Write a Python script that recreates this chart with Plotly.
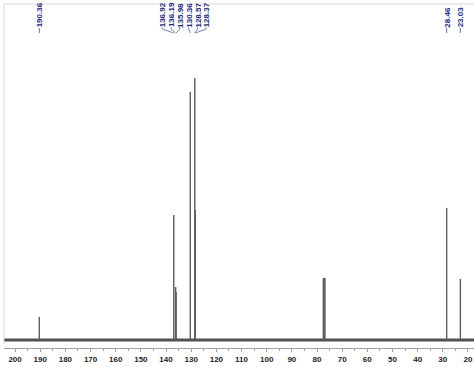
import plotly.graph_objects as go

# ---- data (13C NMR spectrum) ----
peak_ppm = [190.36, 136.92, 136.19, 135.98, 130.36, 128.57, 128.37,
            77.48, 77.16, 76.84, 28.46, 23.03]
peak_int = [8.8, 47.7, 20.2, 18.3, 94.7, 100.0, 49.6,
            23.7, 23.7, 23.7, 50.4, 23.3]

label_groups = [[190.36],
                [136.92, 136.19, 135.98, 130.36, 128.57, 128.37],
                [28.46],
                [23.03]]

tick_vals = [200, 190, 180, 170, 160, 150, 140, 130, 120, 110,
             100, 90, 80, 70, 60, 50, 40, 30, 20]

# ---- figure geometry ----
W, H = 474, 367
mt, mb, ml, mr = 4, 19, 4, 0
plot_h = H - mt - mb
X_RANGE = [204.4, 17.6]
Y_RANGE = [-3.05, 128.2]


def py(ypx):
    """pixel row (from top of page) -> paper y"""
    return 1 - (ypx - mt) / plot_h


LABEL_COLOR = "#1f2a80"
LINE_COLOR = "#5a5f9e"

# spectrum sticks
xs, ys = [], []
for p, h in zip(peak_ppm, peak_int):
    xs += [p, p, None]
    ys += [0, h, None]

fig = go.Figure()
# baseline
fig.add_trace(go.Scatter(x=[X_RANGE[0], X_RANGE[1]], y=[0, 0], mode="lines",
                         line=dict(color="#505050", width=3),
                         hoverinfo="skip", showlegend=False))
fig.add_trace(go.Scatter(x=xs, y=ys, mode="lines",
                         line=dict(color="#5c5c5c", width=1.4),
                         hoverinfo="skip", showlegend=False))

shapes = []
annotations = []
spacing = 3.5  # ppm between labels in a cluster
LBL_BOTTOM = 29.5
for grp in label_groups:
    n = len(grp)
    center = sum(grp) / n
    for i, p in enumerate(grp):
        lx = center + ((n - 1) / 2 - i) * spacing if n > 1 else p
        annotations.append(dict(
            x=lx, xref="x", y=py(LBL_BOTTOM), yref="paper",
            text=f"{p:.2f}", textangle=-90, showarrow=False,
            xanchor="center", yanchor="bottom",
            font=dict(family="Liberation Sans", size=8, color=LABEL_COLOR,
                      weight="bold")))
        if n > 1:
            shapes.append(dict(type="line", xref="x", yref="paper",
                               x0=lx, x1=lx, y0=py(27.5), y1=py(29),
                               line=dict(color=LINE_COLOR, width=0.8)))
            shapes.append(dict(type="line", xref="x", yref="paper",
                               x0=lx, x1=p, y0=py(29), y1=py(33),
                               line=dict(color=LINE_COLOR, width=0.8)))
        else:
            shapes.append(dict(type="line", xref="x", yref="paper",
                               x0=lx, x1=lx, y0=py(28), y1=py(33),
                               line=dict(color=LINE_COLOR, width=0.9)))

# light frame lines (top and left)
shapes.append(dict(type="line", xref="paper", yref="paper", x0=0, x1=1,
                   y0=1, y1=1, line=dict(color="#d8d8d8", width=1)))
shapes.append(dict(type="line", xref="paper", yref="paper", x0=0, x1=0,
                   y0=1, y1=py(344), line=dict(color="#d8d8d8", width=1)))

fig.update_layout(
    width=W, height=H,
    margin=dict(l=ml, r=mr, t=mt, b=mb),
    paper_bgcolor="white", plot_bgcolor="white",
    showlegend=False,
    shapes=shapes, annotations=annotations,
    xaxis=dict(range=X_RANGE, tickmode="array", tickvals=tick_vals,
               ticktext=[str(v) for v in tick_vals],
               showgrid=False, zeroline=False,
               showline=True, linecolor="#a0a0a0", linewidth=1,
               ticks="outside", ticklen=3, tickcolor="#a0a0a0",
               tickfont=dict(family="Liberation Sans", size=8, color="#222",
                             weight="bold"),
               minor=dict(tickmode="linear", tick0=5, dtick=10,
                          ticks="outside", ticklen=2, tickcolor="#a0a0a0")),
    yaxis=dict(range=Y_RANGE, visible=False, showgrid=False, zeroline=False),
)

fig.write_html("out.html",
               config={"displayModeBar": False},
               post_script="document.body.style.margin='0';"
                           "document.body.style.overflow='hidden';")
